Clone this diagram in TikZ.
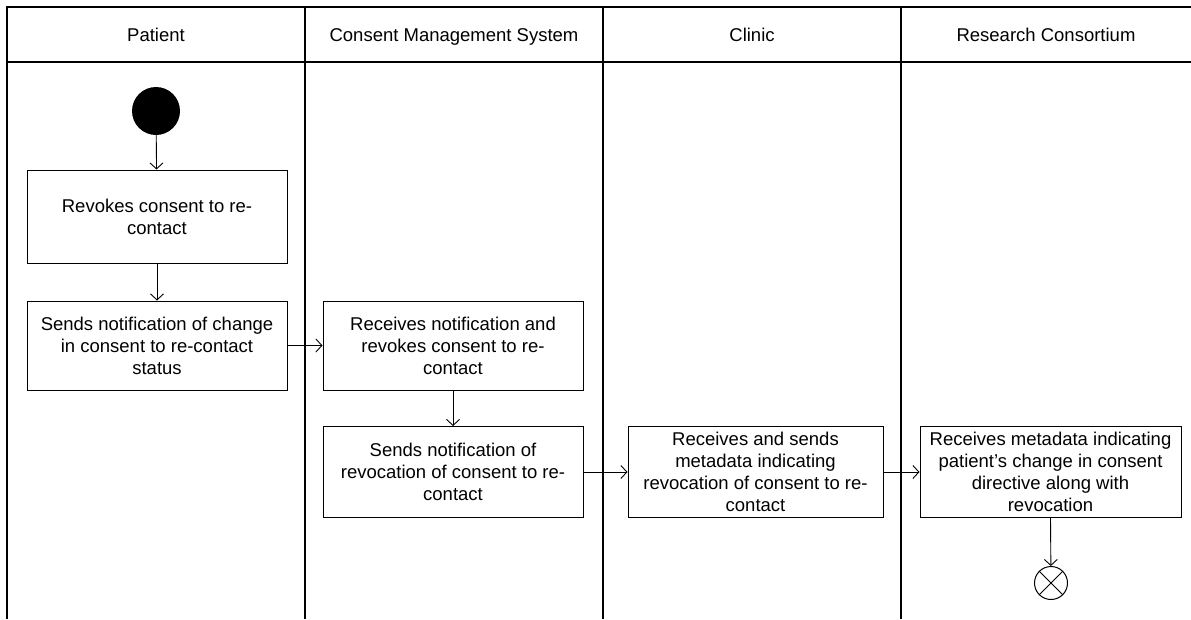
\documentclass[tikz,border=0pt]{standalone}
\usepackage{fontspec}
\setmainfont{Liberation Sans}
\usetikzlibrary{arrows.meta}
\begin{document}
\begin{tikzpicture}[x=1pt,y=-1pt,
  lane/.style={line width=1.1pt},
  act/.style={draw, line width=1.0pt, minimum width=260pt, minimum height=90pt,
    align=center, inner sep=0pt, font=\fontsize{18.5}{22}\selectfont},
  flow/.style={line width=0.9pt, -{Straight Barb[length=6pt,width=13pt,line width=0.9pt]}},
  lbl/.style={font=\fontsize{18.5}{22}\selectfont, anchor=base, inner sep=0pt}]
\useasboundingbox (0,0) rectangle (1191,619);
% swimlanes
\draw[lane] (7,619) -- (7,7) -- (1191,7);
\draw[lane] (7,62) -- (1191,62);
\draw[lane] (305,7) -- (305,619);
\draw[line width=2.0pt] (603,7) -- (603,619);
\draw[lane] (901,7) -- (901,619);
% lane headers
\node[lbl] (hp) at (156,41.5) {Patient};
\node[lbl] (hc) at (454,41.5) {Consent Management System};
\node[lbl] (hk) at (752,41.5) {Clinic};
\node[lbl] (hr) at (1046,41.5) {Research Consortium};
% nodes
\node[circle, fill=black, minimum size=48pt, inner sep=0pt] (start) at (156,111) {};
\node[act, minimum height=93pt] (b1) at (157,216.5) {Revokes consent to re-\\contact};
\node[act, minimum height=89pt] (b2) at (157,345.5) {Sends notification of change\\in consent to re-contact\\status};
\node[act, minimum height=89pt] (b3) at (453,345.5) {Receives notification and\\revokes consent to re-\\contact};
\node[act, minimum height=91pt] (b4) at (453,472) {Sends notification of\\revocation of consent to re-\\contact};
\node[act, minimum width=255pt, minimum height=91pt] (b5) at (755.5,472) {Receives and sends\\metadata indicating\\revocation of consent to re-\\contact};
\node[act, minimum width=261pt, minimum height=91pt] (b6) at (1050.5,472) {Receives metadata indicating\\patient’s change in consent\\directive along with\\revocation};
\node[circle, draw, line width=1.0pt, minimum size=33pt, inner sep=0pt] (end) at (1051,583) {};
\draw[line width=0.9pt] (end.north west) -- (end.south east);
\draw[line width=0.9pt] (end.north east) -- (end.south west);
% flows
\draw[flow] (start) -- (b1);
\draw[flow] (b1) -- (b2);
\draw[flow] (b2) -- (b3);
\draw[flow] (b3) -- (b4);
\draw[flow] (b4) -- (b5);
\draw[flow] (b5) -- (b6);
\draw[flow] (b6.south) -- (end);
\end{tikzpicture}
\end{document}
